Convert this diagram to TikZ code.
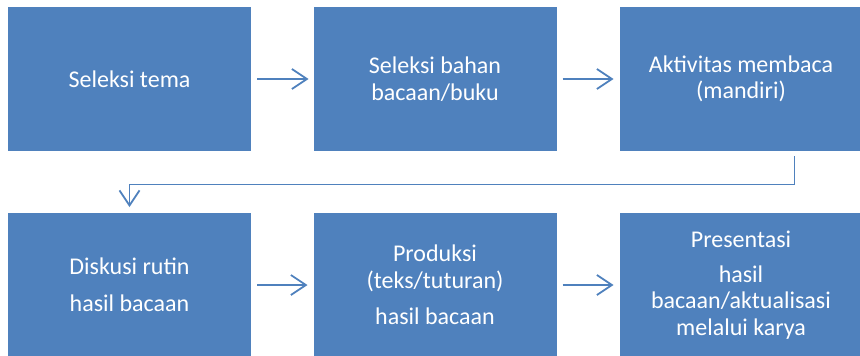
\documentclass[tikz,border=0pt]{standalone}
\usepackage{fontspec}
\setmainfont{Carlito}
\usetikzlibrary{arrows.meta}
\definecolor{boxblue}{HTML}{4F81BD}
\begin{document}
\begin{tikzpicture}[x=1pt,y=-1pt,
  stepbox/.style={fill=boxblue,draw=none,minimum width=243pt,minimum height=144pt,
    inner sep=0pt,outer sep=0pt,text=white,align=center,
    font=\fontsize{24}{26.4}\selectfont},
  conn/.style={draw=boxblue,line width=1.8pt,
    -{Straight Barb[length=15pt,width=20pt,line width=1.8pt]}}]
\useasboundingbox (0,0) rectangle (860,356);
\node[stepbox] (A) at (129.5,79) {Seleksi tema};
\node[stepbox] (B) at (435,79) {Seleksi bahan\\bacaan/buku};
\node[stepbox] (C) at (741,79) {Aktivitas membaca\\(mandiri)};
\node[stepbox] (D) at (129.5,285) {Diskusi rutin\\[10.5pt]hasil bacaan};
\node[stepbox] (E) at (435,285) {Produksi\\(teks/tuturan)\\[10pt]hasil bacaan};
\node[stepbox] (F) at (741,285) {Presentasi\\[8.5pt]hasil\\bacaan/aktualisasi\\melalui karya};
\draw[conn,shorten <=6pt,shorten >=5pt] (A) -- (B);
\draw[conn,shorten <=6pt,shorten >=6pt] (B) -- (C);
\draw[conn,shorten <=6pt,shorten >=6pt] (D) -- (E);
\draw[conn,shorten <=6pt,shorten >=6pt] (E) -- (F);
\coordinate (k1) at (794.5,156);
\coordinate (k2) at (129.5,184.5);
\draw[conn,shorten >=6pt] (k1) |- (k2) -- (D.north);
\end{tikzpicture}
\end{document}
